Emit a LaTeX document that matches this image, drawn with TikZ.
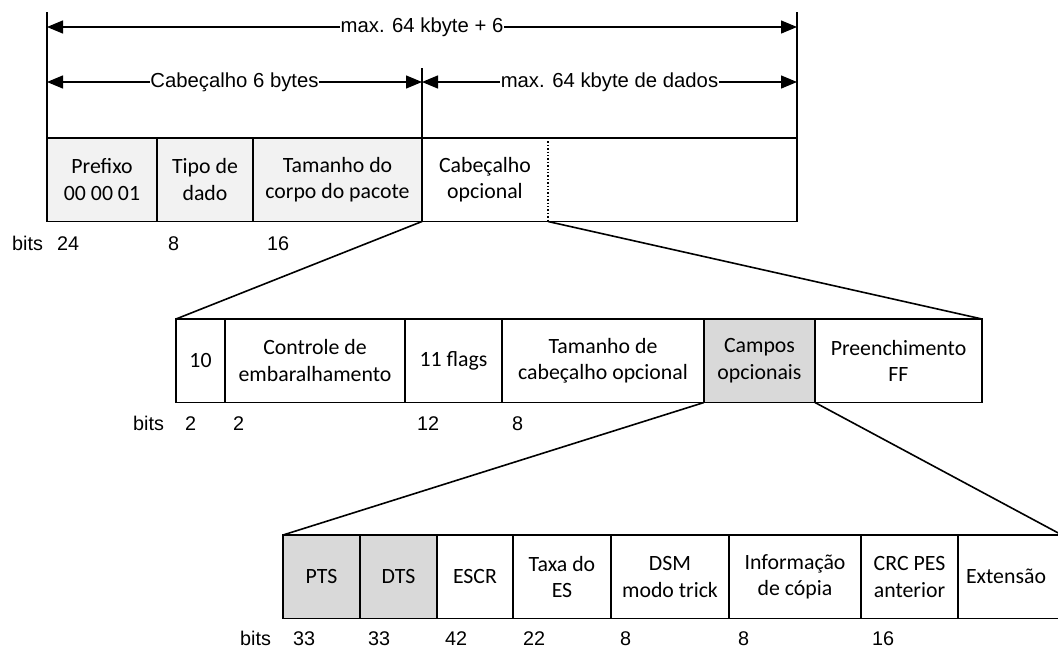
\documentclass[tikz,border=0pt]{standalone}
\usepackage{fontspec}
\setmainfont{Carlito}
\newfontfamily\labelfont{Liberation Sans}
\usetikzlibrary{arrows.meta}
\definecolor{hdrgray}{HTML}{F2F2F2}
\definecolor{selgray}{HTML}{D9D9D9}

\begin{document}
\begin{tikzpicture}[x=1pt,y=-1pt,
  field/.style={draw=black, line width=1.7pt, minimum height=83.5pt,
    inner sep=0pt, outer sep=0pt, anchor=north west, align=center,
    font=\fontsize{21.8}{26.5}\selectfont},
  fw/.style={minimum width=#1pt},
  hdr/.style={fill=hdrgray},
  sel/.style={fill=selgray},
  bitlabel/.style={anchor=base west, inner sep=0pt, font=\labelfont\fontsize{19.8}{23}\selectfont},
  dimarrow/.style={line width=1.4pt, {Triangle[length=16pt,width=13pt]}-{Triangle[length=16pt,width=13pt]}},
  dimlabel/.style={fill=white, inner sep=0.5pt, font=\labelfont\fontsize{20.3}{24}\selectfont},
  extline/.style={line width=1.6pt},
  zoomline/.style={line width=1.6pt},
]
\useasboundingbox (0,0) rectangle (1058,648);
\clip (0,0) rectangle (1058,648);

% ---------- PES packet ----------
\node[field, hdr, fw=110] (pre) at (47,138) {Prefixo\\00 00 01};
\node[field, hdr, fw=96]  (tip) at (157,138) {Tipo de\\dado};
\node[field, hdr, fw=169] (tam) at (253,138) {Tamanho do\\corpo do pacote};
\node[field, fw=375] (data) at (422,138) {};
\node[field, draw=none, fw=126] (opt) at (422,138) {Cabeçalho\\opcional};
\draw[line width=1.4pt, dotted] (opt.north east) -- (opt.south east);

% extension lines for the size arrows
\draw[extline] (pre.north west) -- ++(0,-126) coordinate (eL);
\draw[extline] (data.north east) -- ++(0,-126) coordinate (eR);
\draw[extline] (data.north west) -- ++(0,-70) coordinate (eM);
\coordinate (aL1) at ([yshift=-15pt]eL);
\coordinate (aR1) at ([yshift=-15pt]eR);
\coordinate (aL2) at ([yshift=-70pt]eL);
\coordinate (aM2) at ([yshift=-14pt]eM);
\coordinate (aR2) at ([yshift=-70pt]eR);
\draw[dimarrow] (aL1) -- node[dimlabel] {max. 64 kbyte + 6} (aR1);
\draw[dimarrow] (aL2) -- node[dimlabel] {Cabeçalho 6 bytes} (aM2);
\draw[dimarrow] (aM2) -- node[dimlabel] {max. 64 kbyte de dados} (aR2);

% bit widths, on a common baseline per row
\node[bitlabel] (bt1) at (12,250) {bits};
\node[bitlabel] (b11) at (57,250) {24};
\node[bitlabel] (b12) at (168,250) {8};
\node[bitlabel] (b13) at (267,250) {16};

% ---------- optional PES header ----------
\node[field, fw=49]  (m10)  at (176,319) {10};
\node[field, fw=180] (mctl) at (225,319) {Controle de\\embaralhamento};
\node[field, fw=97]  (mflg) at (405,319) {11 flags};
\node[field, fw=202] (mlen) at (502,319) {Tamanho de\\cabeçalho opcional};
\node[field, sel, fw=111] (mcampos) at (704,319) {Campos\\opcionais};
\node[field, fw=167] (mpad) at (815,319) {Preenchimento\\FF};

\node[bitlabel] (bt2) at (133,430) {bits};
\node[bitlabel] (b21) at (185,430) {2};
\node[bitlabel] (b22) at (233,430) {2};
\node[bitlabel] (b23) at (417,430) {12};
\node[bitlabel] (b24) at (512,430) {8};

% ---------- optional fields ----------
\node[field, sel, fw=77] (pts)  at (283,535) {PTS};
\node[field, sel, fw=77] (dts)  at (360,535) {DTS};
\node[field, fw=76]  (escr) at (437,535) {ESCR};
\node[field, fw=98]  (rate) at (513,535) {Taxa do\\ES};
\node[field, fw=118] (dsm)  at (611,535) {DSM\\modo trick};
\node[field, fw=132] (copy) at (729,535) {Informação\\de cópia};
\node[field, fw=97]  (crc)  at (861,535) {CRC PES\\anterior};
\node[field, fw=104] (ext)  at (958,535) {\hspace*{-8pt}Extensão};

\node[bitlabel] (bt3) at (240,645) {bits};
\node[bitlabel] (b31) at (293,645) {33};
\node[bitlabel] (b32) at (368,645) {33};
\node[bitlabel] (b33) at (445,645) {42};
\node[bitlabel] (b34) at (523,645) {22};
\node[bitlabel] (b35) at (620,645) {8};
\node[bitlabel] (b36) at (738,645) {8};
\node[bitlabel] (b37) at (872,645) {16};

% ---------- expansion lines ----------
\draw[zoomline] (opt.south west) -- (m10.north west);
\draw[zoomline] (opt.south east) -- (mpad.north east);
\draw[zoomline] (mcampos.south west) -- (pts.north west);
\draw[zoomline] (mcampos.south east) -- (ext.north east);
\end{tikzpicture}
\end{document}
